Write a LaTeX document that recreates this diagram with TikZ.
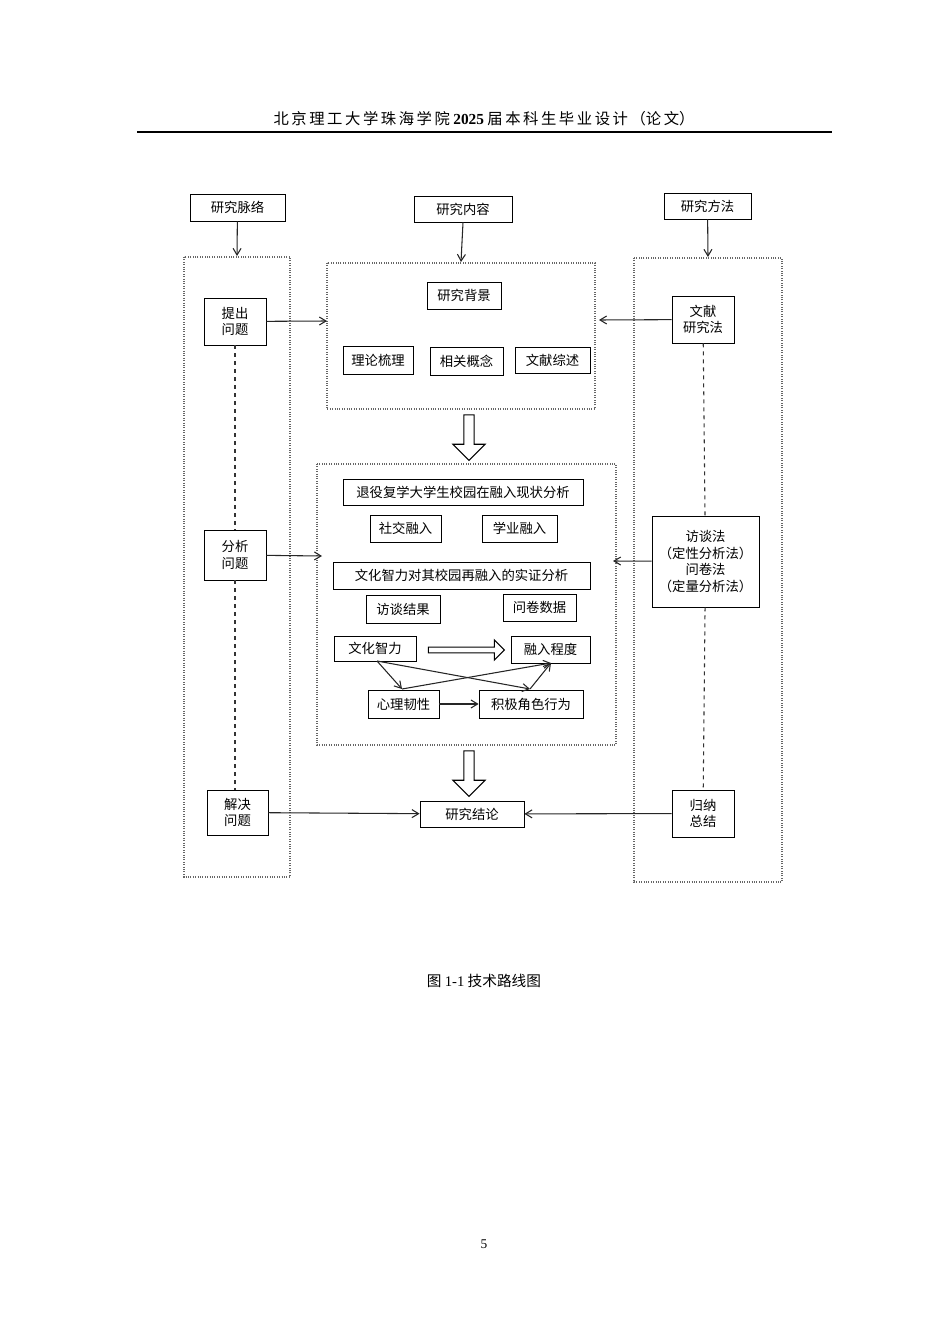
\documentclass[tikz,border=0pt]{standalone}
\usepackage{fontspec}
\setmainfont{Liberation Serif}
\newfontfamily\cjk{Noto Sans CJK SC}
\usetikzlibrary{arrows.meta,shapes.arrows}
\begin{document}
\begin{tikzpicture}[x=0.75pt,y=-0.75pt,
  bx/.style={draw,semithick,inner sep=0pt,font=\cjk\fontsize{10}{12.5}\selectfont,align=center},
  dot/.style={draw,densely dotted,thick,gray!80!black},
  ar/.style={-{Straight Barb[length=5pt,width=6pt]},thick,gray!30!black},
  dsh/.style={dashed,thick,gray!40!black},
  big/.style={single arrow,draw,thick,fill=white,minimum height=34pt,single arrow head extend=5pt,minimum width=24pt,inner sep=2pt}]
\useasboundingbox (0,0) rectangle (950,1344);
\node[font=\cjk\fontsize{11.5}{14}\selectfont] (hdr) at (484,119) {北\,京\,理\,工\,大\,学\,珠\,海\,学\,院 {\fontspec{Liberation Serif}\bfseries 2025} 届\,本\,科\,生\,毕\,业\,设\,计\,（论\,文）};
\draw[thick] (137,132) -- (832,132);
\newcommand\bxx[6]{\node[bx,minimum width=#4*0.75pt,minimum height=#5*0.75pt] (#1) at (#2,#3) {#6};}
\draw[dot] (184,257) rectangle (290,877);
\draw[dot] (327,263) rectangle (595,409);
\draw[dot] (634,258) rectangle (782,882);
\draw[dot] (317,464) rectangle (616,745);
\bxx{mlA}{237.5}{207.5}{95}{27}{研究脉络}
\bxx{nrA}{463}{209}{98}{26}{研究内容}
\bxx{ffA}{707.5}{206}{87}{26}{研究方法}
\bxx{tc}{235}{321.5}{62}{47}{提出\\问题}
\bxx{fx}{235}{555}{62}{50}{分析\\问题}
\bxx{jj}{237.5}{812.5}{61}{45}{解决\\问题}
\bxx{wx}{703}{319.5}{62}{47}{文献\\研究法}
\bxx{ft}{705.5}{561.5}{107}{91}{访谈法\\（定性分析法）\\问卷法\\（定量分析法）}
\bxx{gn}{703}{813.5}{62}{47}{归纳\\总结}
\bxx{bj}{464}{295.5}{74}{27}{研究背景}
\bxx{ll}{378}{360}{70}{28}{理论梳理}
\bxx{xg}{466.5}{361}{73}{28}{相关概念}
\bxx{ws}{552.5}{360}{75}{26}{文献综述}
\bxx{ty}{463}{492}{240}{26}{退役复学大学生校园在融入现状分析}
\bxx{sj}{405.5}{528.5}{71}{27}{社交融入}
\bxx{xy}{519.5}{528.5}{75}{27}{学业融入}
\bxx{wh}{461.5}{575.5}{257}{27}{文化智力对其校园再融入的实证分析}
\bxx{fj}{403}{609}{74}{28}{访谈结果}
\bxx{wj}{539.5}{607.5}{73}{27}{问卷数据}
\bxx{zl}{375}{648.5}{82}{25}{文化智力}
\bxx{rr}{550.5}{649.5}{79}{27}{融入程度}
\bxx{xl}{403.5}{704}{71}{28}{心理韧性}
\bxx{jx}{531}{704}{104}{28}{积极角色行为}
\bxx{jl}{472}{814}{104}{26}{研究结论}
\coordinate (lbt) at (237,256);
\coordinate (cbt) at (461,262);
\coordinate (rbt) at (708,257);
\coordinate (cl1) at (327,321);
\coordinate (cr1) at (599,320);
\coordinate (ml) at (322,556);
\coordinate (mr) at (613,561);
\draw[ar] (mlA) -- (lbt);
\draw[ar] (nrA.south) -- (cbt);
\draw[ar] (ffA) -- (rbt);
\draw[ar] (tc) -- (cl1);
\draw[ar] (fx) -- (ml);
\draw[ar] (wx) -- (cr1);
\draw[ar] (ft) -- (mr);
\draw[ar] (jj) -- (jl);
\draw[ar] (gn) -- (jl);
\draw[dsh] (tc) -- (fx);
\draw[dsh] (fx) -- (jj.north -| fx);
\draw[dsh] (wx) -- (ft);
\draw[dsh] (ft) -- (gn);
\node[big,rotate=-90] (b1) at (469,435) {};
\node[big,rotate=-90] (b2) at (469,771) {};
\node[single arrow,draw,thick,minimum height=57pt,minimum width=15pt,single arrow head extend=3.5pt,inner sep=1pt] (b3) at (465,650) {};
\coordinate (z0) at (377,661);
\coordinate (x0) at (402,689);
\coordinate (j0) at (530,689);
\coordinate (r0) at (551,663);
\draw[ar] (z0) -- (x0);
\draw[ar] (z0) -- (j0);
\draw[ar] (x0) -- (r0);
\draw[ar] (j0) -- (r0);
\draw[ar] (xl) -- (jx);
\node[font=\cjk\fontsize{11}{13}\selectfont] (cap) at (484,981) {图 {\fontspec{Liberation Serif}1-1} 技术路线图};
\node[font=\fontsize{10}{12}\selectfont] (pg) at (484,1244) {5};
\end{tikzpicture}
\end{document}
